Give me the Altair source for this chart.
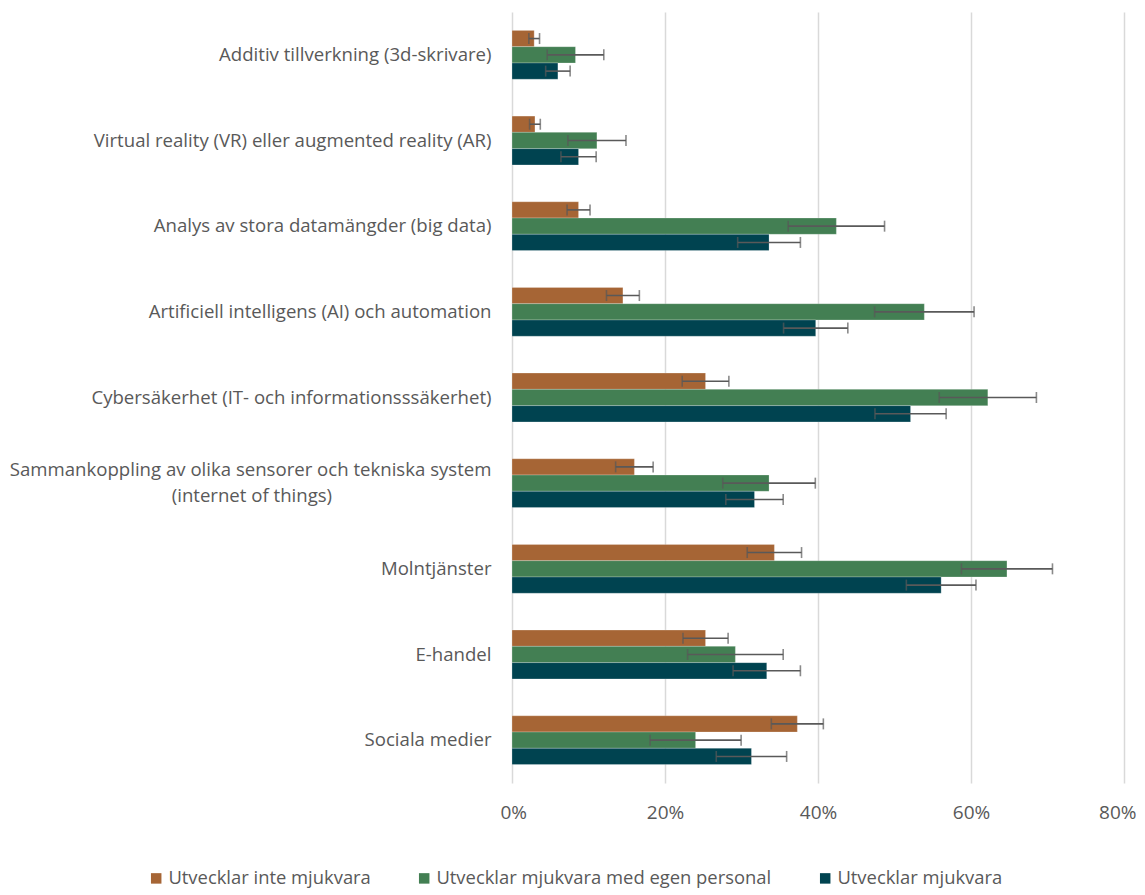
import altair as alt
import pandas as pd

categories = [
    "Additiv tillverkning (3d-skrivare)",
    "Virtual reality (VR) eller augmented reality (AR)",
    "Analys av stora datamängder (big data)",
    "Artificiell intelligens (AI) och automation",
    "Cybersäkerhet (IT- och informationsssäkerhet)",
    "Sammankoppling av olika sensorer och tekniska system|(internet of things)" + "\u00a0" * 33 + "\u200b",
    "Molntjänster",
    "E-handel",
    "Sociala medier",
]

series = [
    "Utvecklar inte mjukvara",
    "Utvecklar mjukvara med egen personal",
    "Utvecklar mjukvara",
]

colors = ["#A66535", "#437F53", "#004350"]

# values (%) per series, in category order
inte_values = [2.9, 3.0, 8.7, 14.5, 25.3, 16.0, 34.3, 25.3, 37.3]
egen_values = [8.3, 11.1, 42.4, 53.9, 62.2, 33.6, 64.7, 29.2, 24.0]
utv_values = [6.0, 8.7, 33.6, 39.7, 52.1, 31.7, 56.1, 33.3, 31.3]

# error margins (percentage points)
inte_err = [0.7, 0.7, 1.5, 2.15, 3.05, 2.45, 3.55, 2.95, 3.4]
egen_err = [3.7, 3.8, 6.3, 6.5, 6.35, 6.05, 5.95, 6.25, 5.95]
utv_err = [1.6, 2.3, 4.1, 4.2, 4.65, 3.75, 4.55, 4.4, 4.6]

rows = []
for s, vals, errs in [
    (series[0], inte_values, inte_err),
    (series[1], egen_values, egen_err),
    (series[2], utv_values, utv_err),
]:
    for c, v, e in zip(categories, vals, errs):
        rows.append({
            "category": c,
            "series": s,
            "value": v / 100,
            "lo": (v - e) / 100,
            "hi": (v + e) / 100,
        })
df = pd.DataFrame(rows)

FONT = "Open Sans"
GRAY = "#595959"

y_enc = alt.Y(
    "category:N",
    sort=categories,
    title=None,
    scale=alt.Scale(paddingInner=0.43, paddingOuter=0.215),
    axis=alt.Axis(
        labelExpr="split(datum.label, '|')",
        labelFont=FONT,
        labelFontSize=18.6,
        labelColor=GRAY,
        labelPadding=21,
        labelLimit=700,
        labelLineHeight=26,
        labelOffset={"condition": {"test": "indexof(datum.value, '|') >= 0", "value": -13}, "value": 0},
        ticks=False,
        tickSize=0,
        domain=False,
        grid=False,
        minExtent=504,
        maxExtent=504,
    ),
)
yoff = alt.YOffset("series:N", sort=series)

x_scale = alt.Scale(domain=[0, 0.8], nice=False)

base = alt.Chart(df)

bars = base.mark_bar(stroke="#ffffff", strokeWidth=0.4, strokeOpacity=0.6).encode(
    x=alt.X(
        "value:Q",
        scale=x_scale,
        title=None,
        axis=alt.Axis(
            format=".0%",
            values=[0, 0.2, 0.4, 0.6, 0.8],
            labelFont=FONT,
            labelFontSize=19,
            labelColor=GRAY,
            labelPadding=20,
            labelFlush=True,
            labelFlushOffset=12,
            ticks=False,
            tickSize=0,
            domain=False,
            grid=True,
            gridColor="#D9D9D9",
            gridWidth=1.5,
        ),
    ),
    y=y_enc,
    yOffset=yoff,
    color=alt.Color(
        "series:N",
        sort=series,
        scale=alt.Scale(domain=series, range=colors),
        legend=alt.Legend(
            title=None,
            orient="none",
            direction="horizontal",
            legendX=-365,
            legendY=857,
            columns=3,
            columnPadding=44,
            symbolType="square",
            symbolSize=110,
            symbolStrokeWidth=0,
            symbolOffset=0,
            labelFont=FONT,
            labelFontSize=18.4,
            labelColor=GRAY,
            labelOffset=3,
            labelLimit=500,
        ),
    ),
)

rules = base.mark_rule(color=GRAY, strokeWidth=1.6).encode(
    x="lo:Q",
    x2="hi:Q",
    y=alt.Y("category:N", sort=categories),
    yOffset=yoff,
)

caps_lo = base.mark_tick(color=GRAY, thickness=1.6, size=11).encode(
    x="lo:Q",
    y=alt.Y("category:N", sort=categories),
    yOffset=yoff,
)
caps_hi = base.mark_tick(color=GRAY, thickness=1.6, size=11).encode(
    x="hi:Q",
    y=alt.Y("category:N", sort=categories),
    yOffset=yoff,
)

chart = (
    alt.layer(bars, rules, caps_lo, caps_hi)
    .properties(
        width=612,
        height=771,
        padding={"left": 0, "top": 4, "right": 0, "bottom": 0},
        background="#ffffff",
    )
    .configure_view(stroke=None)
)

chart.save("out.html", embed_options={"renderer": "svg", "actions": False})
